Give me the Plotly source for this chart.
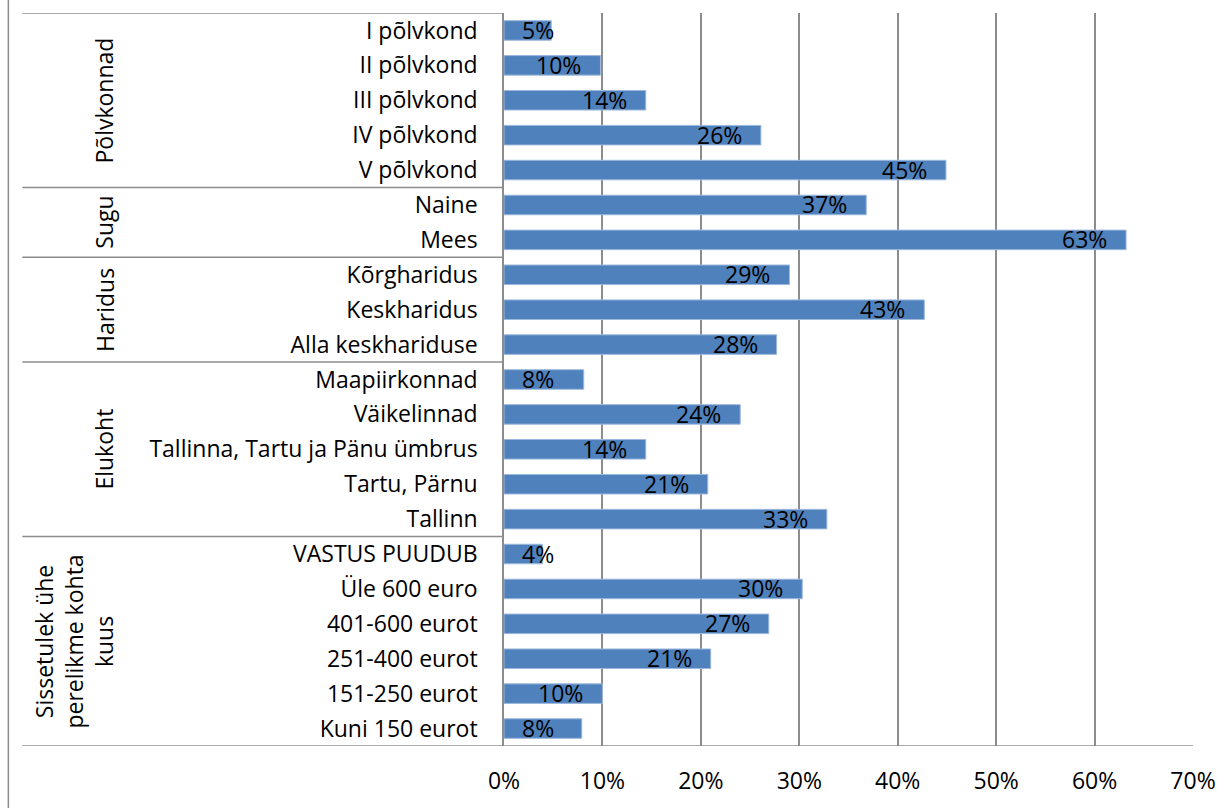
import plotly.graph_objects as go

# Group headings (left column) and the categories inside each group
group_titles = ["Põlvkonnad", "Sugu", "Haridus", "Elukoht",
                "Sissetulek ühe<br>perelikme kohta<br>kuus"]

cat_polvkonnad = ["I põlvkond", "II põlvkond", "III põlvkond", "IV põlvkond", "V põlvkond"]
cat_sugu = ["Naine", "Mees"]
cat_haridus = ["Kõrgharidus", "Keskharidus", "Alla keskhariduse"]
cat_elukoht = ["Maapiirkonnad", "Väikelinnad", "Tallinna, Tartu ja Pänu ümbrus",
               "Tartu, Pärnu", "Tallinn"]
cat_sissetulek = ["VASTUS PUUDUB", "Üle 600 euro", "401-600 eurot", "251-400 eurot",
                  "151-250 eurot", "Kuni 150 eurot"]

val_polvkonnad = [0.048, 0.098, 0.144, 0.261, 0.449]
val_sugu = [0.368, 0.632]
val_haridus = [0.290, 0.427, 0.277]
val_elukoht = [0.081, 0.240, 0.144, 0.207, 0.328]
val_sissetulek = [0.039, 0.303, 0.269, 0.210, 0.100, 0.079]

x_ticks = [0.0, 0.1, 0.2, 0.3, 0.4, 0.5, 0.6, 0.7]

group_cats = [cat_polvkonnad, cat_sugu, cat_haridus, cat_elukoht, cat_sissetulek]
group_vals = [val_polvkonnad, val_sugu, val_haridus, val_elukoht, val_sissetulek]

categories = [c for g in group_cats for c in g]
values = [v for g in group_vals for v in g]

# Page geometry
W, H = 1232, 808
ML, MR, MT, MB = 504, 38.5, 13, 58
PW = W - ML - MR
PH = H - MT - MB


def px_x(p):
    """Pixel column -> paper x."""
    return (p - ML) / PW


def px_y(p):
    """Pixel row -> paper y."""
    return (H - MB - p) / PH


FONT = "Open Sans"
FS = 23
LINE = "#8c8c8c"

fig = go.Figure(go.Bar(
    x=values,
    y=categories,
    orientation="h",
    marker=dict(color="#4F81BD", line=dict(color="#9DB8DC", width=1)),
    width=0.56,
    hoverinfo="x+y",
))

annotations = []
# Value labels at the inner end of each bar
for cat, v in zip(categories, values):
    txt = f"{v:.0%}"
    if v * PW < 66:
        annotations.append(dict(x=0, y=cat, xref="x", yref="y", text=txt,
                                showarrow=False, xanchor="left", xshift=16, yshift=0.5,
                                font=dict(family=FONT, size=FS, color="black")))
    else:
        annotations.append(dict(x=v, y=cat, xref="x", yref="y", text=txt,
                                showarrow=False, xanchor="right", xshift=-17, yshift=0.5,
                                font=dict(family=FONT, size=FS, color="black")))

shapes = []
# Group headings and separators
start = 0
bounds = [-0.5]
for title, cats in zip(group_titles, group_cats):
    end = start + len(cats)
    annotations.append(dict(x=px_x(122), y=(start + end - 1) / 2, xref="paper", yref="y",
                            text=title, textangle=-90, showarrow=False,
                            xanchor="right", yanchor="middle",
                            font=dict(family=FONT, size=FS, color="black")))
    bounds.append(end - 0.5)
    start = end

for i, b in enumerate(bounds):
    x1 = 1.0 if i == len(bounds) - 1 else 0.0
    shapes.append(dict(type="line", xref="paper", yref="y", x0=px_x(22), x1=x1,
                       y0=b, y1=b, line=dict(color=LINE, width=1.5)))

# Outer left border of the chart
shapes.append(dict(type="line", xref="paper", yref="paper", x0=px_x(8), x1=px_x(8),
                   y0=px_y(H + 5), y1=px_y(-5), line=dict(color=LINE, width=1.5)))

fig.update_layout(
    width=W, height=H,
    margin=dict(l=ML, r=MR, t=MT, b=MB, pad=0),
    paper_bgcolor="white", plot_bgcolor="white",
    showlegend=False,
    font=dict(family=FONT, size=FS, color="black"),
    annotations=annotations,
    shapes=shapes,
    xaxis=dict(range=[0, 0.7], tickvals=x_ticks, tickformat=".0%",
               showgrid=True, gridcolor=LINE, gridwidth=1.5,
               zeroline=False, showline=False, ticks="",
               ticklabelstandoff=19,
               tickfont=dict(family=FONT, size=FS, color="black")),
    yaxis=dict(type="category", categoryorder="array", categoryarray=categories,
               range=[len(categories) - 0.5, -0.5],
               showgrid=False, zeroline=False,
               showline=True, linecolor=LINE, linewidth=1.5,
               ticks="", ticklabelstandoff=20,
               tickfont=dict(family=FONT, size=FS, color="black")),
)

fig.write_html("out.html")
